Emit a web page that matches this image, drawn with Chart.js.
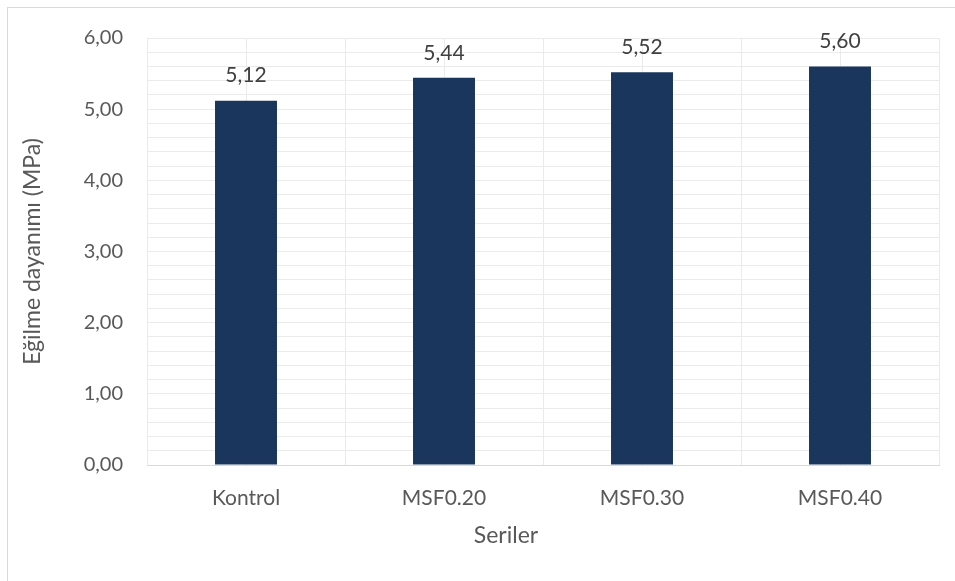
<!DOCTYPE html>
<html>
<head>
<meta charset="utf-8">
<script src="https://cdn.jsdelivr.net/npm/chart.js@4.4.0/dist/chart.umd.min.js"></script>
<style>
  html, body { margin: 0; padding: 0; background: #fff; overflow: hidden; }
  #wrap { position: relative; width: 955px; height: 581px; }
  #frame { position: absolute; left: 7px; top: 7px; width: 1200px; height: 1200px; border: 1px solid #d9d9d9; }
  #c { position: absolute; left: 0; top: 0; }
</style>
</head>
<body>
<div id="wrap">
  <div id="frame"></div>
  <canvas id="c" width="955" height="581"></canvas>
</div>
<script>
const categories = ['Kontrol', 'MSF0.20', 'MSF0.30', 'MSF0.40'];
const strength = [5.12, 5.44, 5.52, 5.60];
const yMin = 0;
const yMax = 6;
const yStep = 0.2;

const fontName = 'Lato, "Open Sans", sans-serif';

function fmt(v) {
    return v.toFixed(2).replace('.', ',');
}

// value labels above bars, plus the x axis title
const labelPlugin = {
    id: 'barLabels',
    afterDatasetsDraw(chart) {
        const ctx = chart.ctx;
        ctx.save();
        ctx.font = '21px ' + fontName;
        ctx.fillStyle = '#404040';
        ctx.textAlign = 'center';
        ctx.textBaseline = 'middle';
        chart.getDatasetMeta(0).data.forEach((bar, i) => {
            ctx.fillText(fmt(strength[i]), bar.x, bar.y - 25);
        });
        ctx.font = '23px ' + fontName;
        ctx.fillStyle = '#595959';
        ctx.fillText('Seriler', 506, 536);
        ctx.restore();
    }
};

const data = {
    labels: categories,
    datasets: [{
        label: 'Eğilme dayanımı',
        data: strength,
        backgroundColor: '#1a365d',
        borderWidth: 0,
        barPercentage: 0.626,
        categoryPercentage: 0.5
    }]
};

const config = {
    type: 'bar',
    data: data,
    options: {
        responsive: false,
        animation: false,
        layout: { padding: { left: 19, right: 16, top: 38, bottom: 0 } },
        plugins: {
            legend: { display: false },
            tooltip: { enabled: false }
        },
        scales: {
            x: {
                offset: true,
                grid: { color: '#ebebeb', offset: true, drawTicks: false },
                border: { color: '#d9d9d9', width: 1 },
                ticks: { color: '#595959', font: { family: fontName, size: 21 }, padding: 21 },
                afterFit(scale) { scale.height = 116; }
            },
            x2: {
                type: 'category',
                position: 'top',
                offset: true,
                grid: { color: '#ebebeb', offset: false, drawTicks: false },
                border: { display: false },
                ticks: { display: false },
                afterFit(scale) { scale.height = 0; }
            },
            y: {
                min: yMin,
                max: yMax,
                grid: { color: '#ebebeb', drawTicks: false },
                border: { display: false },
                ticks: {
                    stepSize: yStep,
                    autoSkip: false,
                    padding: 24,
                    color: '#595959',
                    font: { family: fontName, size: 20 },
                    callback: function(v) {
                        return Math.abs(v - Math.round(v)) < 1e-6 ? fmt(v) : '';
                    }
                },
                title: {
                    display: true,
                    text: 'Eğilme dayanımı (MPa)',
                    color: '#595959',
                    font: { family: fontName, size: 23 },
                    padding: 0
                },
                afterFit(scale) { scale.width = 128; }
            }
        }
    },
    plugins: [labelPlugin]
};

let ctx = document.getElementById('c').getContext('2d');
new Chart(ctx, config);
</script>
</body>
</html>
